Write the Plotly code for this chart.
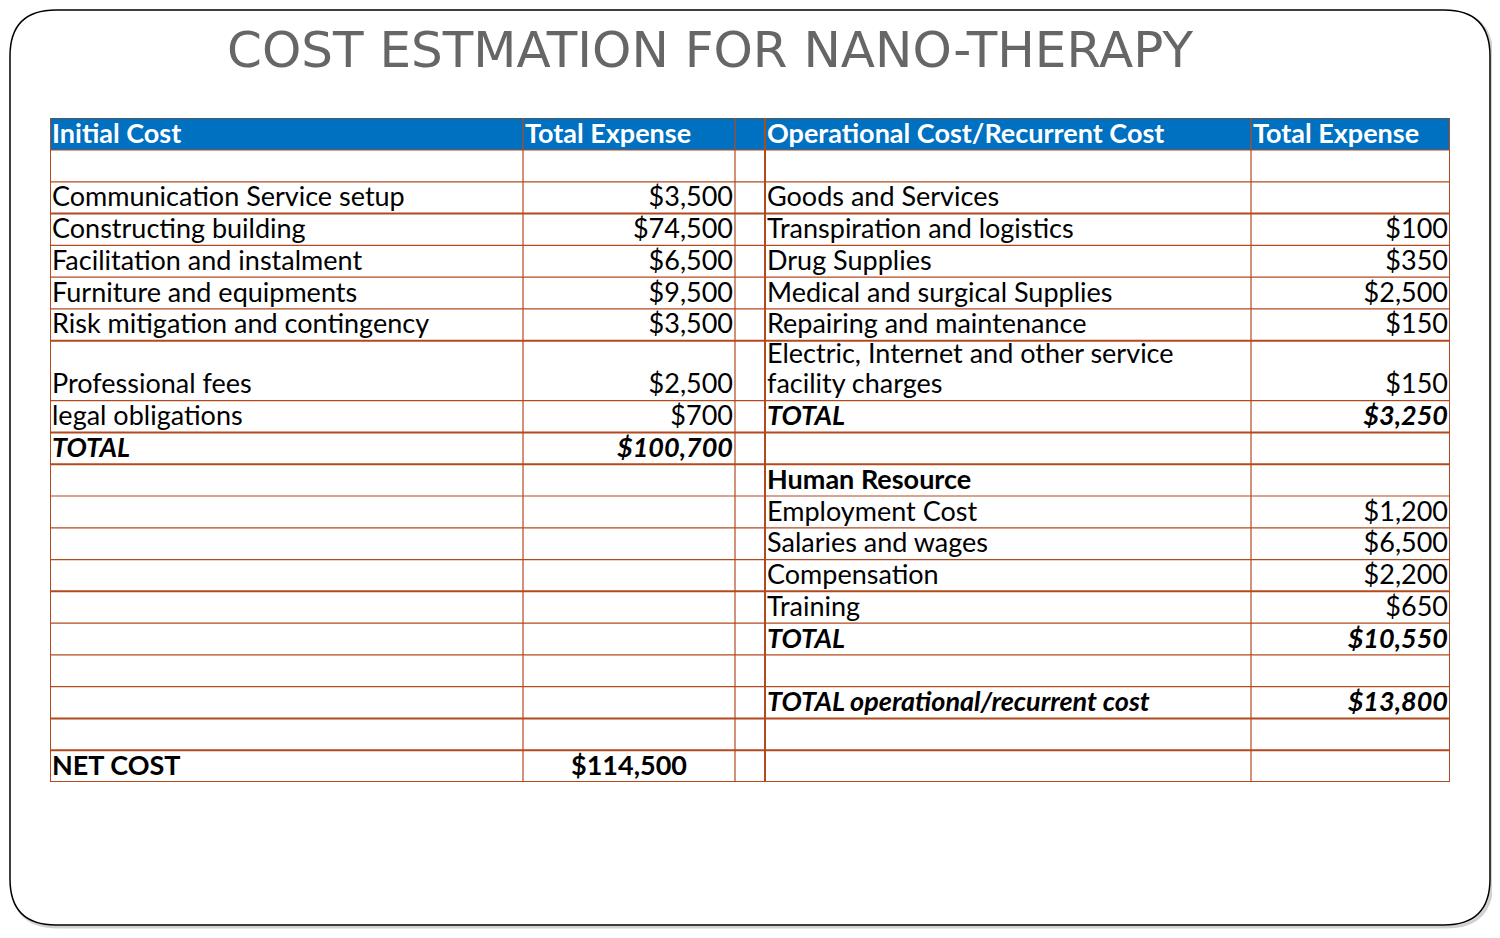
import plotly.graph_objects as go

# ---------------- data ----------------
title = "COST ESTMATION FOR NANO-THERAPY"
headers = ["Initial Cost", "Total Expense", "", "Operational Cost/Recurrent Cost", "Total Expense"]

initial_items = ["", "Communication Service setup", "Constructing building", "Facilitation and instalment",
                 "Furniture and equipments", "Risk mitigation and contingency", "Professional fees",
                 "legal obligations", "TOTAL", "", "", "", "", "", "", "", "", "", "NET COST"]
initial_values = [None, 3500, 74500, 6500, 9500, 3500, 2500, 700, 100700,
                  None, None, None, None, None, None, None, None, None, 114500]

oper_items = ["", "Goods and Services", "Transpiration and logistics", "Drug Supplies",
              "Medical and surgical Supplies", "Repairing and maintenance",
              "Electric, Internet and other service<br>facility charges", "TOTAL", "",
              "Human Resource", "Employment Cost", "Salaries and wages", "Compensation", "Training",
              "TOTAL", "", "TOTAL operational/recurrent cost", "", ""]
oper_values = [None, None, 100, 350, 2500, 150, 150, 3250, None, None,
               1200, 6500, 2200, 650, 10550, None, 13800, None, None]

initial_styles = {8: "bi", 18: "b"}
oper_styles = {7: "bi", 9: "b", 14: "bi", 16: "bi"}

# ---------------- layout/style ----------------
OFF = 8  # page body margin
W, H = 1484, 922
TL, TT, TR, TB = 50 - OFF, 118 - OFF, 1450 - OFF, 782 - OFF
col_widths = [473, 212, 30, 486, 199]
row_heights = [32] + [31.78] * 19
row_heights[7] = 60  # two-line row
thick_rows = {3, 7, 9, 10, 14, 18, 19, 20}
GRID = "#B24A1E"
FONT = "Lato"
FS = 27
LINE_GAP = 30

col_b = [0]
for w in col_widths:
    col_b.append(col_b[-1] + w)
row_b = [0]
for h in row_heights:
    row_b.append(row_b[-1] + h)
total_w, total_h = col_b[-1], row_b[-1]


def money(v):
    return "" if v is None else "${:,}".format(v)


def styl(t, s):
    if not t:
        return t
    if s == "bi":
        return "<b><i>" + t + "</i></b>"
    if s == "b":
        return "<b>" + t + "</b>"
    return t


xs, ys, texts, poss, cols = [], [], [], [], []
PAD = 2
YOFF = 0.5


def add(col, row, text, align, style="", color="black"):
    if not text:
        return
    lines = text.split("<br>")
    for j, line in enumerate(reversed(lines)):
        if align == "left":
            x, p = col_b[col] + PAD, "top right"
        elif align == "right":
            x, p = col_b[col + 1] - PAD, "top left"
        else:
            x, p = (col_b[col] + col_b[col + 1]) / 2, "top center"
        xs.append(x)
        ys.append(row_b[row + 1] - YOFF - j * LINE_GAP)
        texts.append(styl(line, style))
        poss.append(p)
        cols.append(color)


for c, h in enumerate(headers):
    add(c, 0, h, "left", "b", "white")

for i in range(len(initial_items)):
    s = initial_styles.get(i, "")
    add(0, i + 1, initial_items[i], "left", s)
    add(1, i + 1, money(initial_values[i]), "center" if s == "b" else "right", s)
for i in range(len(oper_items)):
    s = oper_styles.get(i, "")
    add(3, i + 1, oper_items[i], "left", s)
    add(4, i + 1, money(oper_values[i]), "right", s)

fig = go.Figure()
fig.add_trace(go.Scatter(
    x=xs, y=ys, text=texts, mode="text", textposition=poss,
    textfont=dict(family=FONT, size=FS, color=cols),
    hoverinfo="skip", showlegend=False, cliponaxis=False,
))

shapes = []
# header fill
shapes.append(dict(type="rect", xref="x", yref="y", x0=0, x1=total_w, y0=0, y1=row_b[1],
                   fillcolor="#0070C0", line=dict(width=0), layer="below"))
# horizontal grid
for k, yb in enumerate(row_b):
    color = "#555555" if k == 0 else GRID
    shapes.append(dict(type="line", xref="x", yref="y", x0=0, x1=total_w, y0=yb, y1=yb,
                       line=dict(color=color, width=2 if (k in thick_rows or k == 0) else 1.2)))
# vertical grid
for k, xb in enumerate(col_b):
    wv = 2 if k in (0, 3, 5) else 1.2
    shapes.append(dict(type="line", xref="x", yref="y", x0=xb, x1=xb, y0=0, y1=total_h,
                       line=dict(color=GRID, width=wv)))


def px(x):
    return (x - OFF) / W


def py(y):
    return 1 - (y - OFF) / H


def rrect(x0, y0, x1, y1, r):
    return ("M {a},{b} L {c},{b} Q {d},{b} {d},{e} L {d},{f} Q {d},{g} {c},{g} L {a},{g} "
            "Q {h},{g} {h},{f} L {h},{e} Q {h},{b} {a},{b} Z").format(
        a=px(x0 + r), b=py(y0), c=px(x1 - r), d=px(x1), e=py(y0 + r), f=py(y1 - r),
        g=py(y1), h=px(x0))


shapes.insert(0, dict(type="path", xref="paper", yref="paper", path=rrect(12, 12, 1492, 927, 46),
                      line=dict(color="rgba(0,0,0,0.18)", width=3), layer="below"))
shapes.insert(1, dict(type="path", xref="paper", yref="paper", path=rrect(10, 10, 1490, 925, 46),
                      line=dict(color="black", width=1.5), fillcolor="white", layer="below"))

fig.update_layout(
    width=W, height=H, margin=dict(l=0, r=0, t=0, b=0),
    paper_bgcolor="white", plot_bgcolor="rgba(0,0,0,0)",
    shapes=shapes,
    xaxis=dict(domain=[TL / W, TR / W], range=[0, total_w], visible=False, fixedrange=True),
    yaxis=dict(domain=[1 - TB / H, 1 - TT / H], range=[total_h, 0], visible=False, fixedrange=True),
    annotations=[dict(text=title, xref="paper", yref="paper", x=px(710), y=py(50),
                      xanchor="center", yanchor="middle", showarrow=False,
                      font=dict(family="DejaVu Sans", size=50, color="#666666"))],
    showlegend=False,
)

fig.write_html("out.html")
